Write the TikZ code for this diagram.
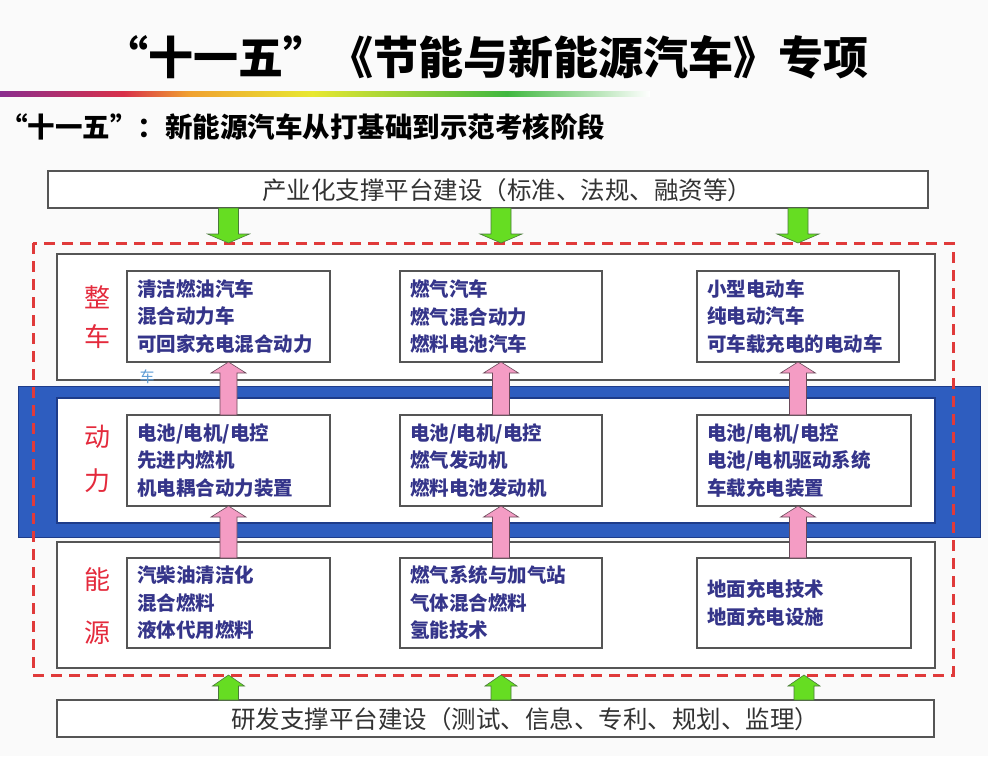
\documentclass[tikz,border=0pt]{standalone}
\usepackage{fontspec}
\setmainfont{Noto Sans CJK SC}
\usetikzlibrary{calc}
\definecolor{bgc}{HTML}{FAFAFA}
\definecolor{boxgray}{HTML}{555555}
\definecolor{navy}{HTML}{35358A}
\definecolor{labred}{HTML}{E42A3C}
\definecolor{zonered}{HTML}{E03A3A}
\definecolor{bandblue}{HTML}{2E5DBF}
\definecolor{banddark}{HTML}{1E3C8A}
\definecolor{pinkf}{HTML}{F49CC4}
\definecolor{pinkd}{HTML}{6A4A5A}
\definecolor{greenf}{HTML}{66DD22}
\definecolor{greend}{HTML}{4A7A3A}
\definecolor{rbpurple}{HTML}{8A2E8E}
\definecolor{rbred}{HTML}{D8304A}
\definecolor{rborange}{HTML}{F0A030}
\definecolor{rbyellow}{HTML}{E8E830}
\definecolor{rbgreen}{HTML}{40B840}
\definecolor{overblue}{HTML}{5B9BD5}
\pgfdeclarehorizontalshading{rainbowline}{100bp}{color(0bp)=(rbpurple); color(25bp)=(rbpurple); color(34.5bp)=(rbred); color(39.5bp)=(rborange); color(49bp)=(rbyellow); color(64bp)=(rbgreen); color(75bp)=(white); color(100bp)=(white)}
\newcommand\uparr[6]{\path[#1] let \p1=(#2), \p2=(#3) in
 (\x2-#4,\y1) -- (\x2-#4,\y2-#6) -- (\x2-#5,\y2-#6) -- (\x2,\y2) -- (\x2+#5,\y2-#6) -- (\x2+#4,\y2-#6) -- (\x2+#4,\y1) -- cycle;}
\newcommand\dnarr[6]{\path[#1] let \p1=(#2), \p2=(#3) in
 (\x2-#4,\y1) -- (\x2-#4,\y2+#6) -- (\x2-#5,\y2+#6) -- (\x2,\y2) -- (\x2+#5,\y2+#6) -- (\x2+#4,\y2+#6) -- (\x2+#4,\y1) -- cycle;}
\begin{document}
\begin{tikzpicture}[x=1pt,y=-1pt,
  every node/.style={inner sep=0pt,outer sep=0pt},
  rowbox/.style={draw=boxgray,line width=1.4pt,fill=white,anchor=north west,minimum width=878,minimum height=126},
  platbox/.style={draw=boxgray,line width=1.4pt,fill=white,minimum height=37},
  plattext/.style={text=black!80,font=\fontsize{24.5}{24.5}\selectfont},
  ibox/.style={draw=boxgray,line width=1.3pt,fill=white,anchor=north west,align=left,minimum height=91,text=navy,font=\fontsize{19.5}{27.5}\selectfont\bfseries},
  lab/.style={text=labred,align=center,font=\fontsize{26}{39}\selectfont},
  pinkarr/.style={fill=pinkf,draw=pinkd,line width=0.6pt},
  greenarr/.style={fill=greenf,draw=greend,line width=0.6pt}]
\useasboundingbox (0,0) rectangle (988,756);
\fill[bgc] (0,0) rectangle (988,756);
% titles
\node[font=\fontsize{45}{45}\selectfont\bfseries] (title) at (486,57) {“十一五”《节能与新能源汽车》专项};
\shade[shading=rainbowline] (0,91.5) rectangle (650,96.5);
\node[anchor=west,font=\fontsize{27.5}{27.5}\selectfont\bfseries] (sub) at (0,127) {“十一五”：新能源汽车从打基础到示范考核阶段};
% platforms
\node[platbox,minimum width=880,anchor=north west] (top) at (48,171) {};
\node[plattext] (toptxt) at (507,190) {产业化支撑平台建设（标准、法规、融资等）};
\node[platbox,minimum width=877,anchor=north west] (bot) at (57,700) {};
\node[plattext] (bottxt) at (525,719) {研发支撑平台建设（测试、信息、专利、规划、监理）};
% rows
\node[rowbox] (row1) at (57,254) {};
\node[fill=bandblue,draw=banddark,line width=0.8pt,anchor=north west,minimum width=962,minimum height=151] (band) at (18,386) {};
\node[rowbox,draw=banddark,minimum height=125] (row2) at (57,398) {};
\node[rowbox] (row3) at (57,542) {};
\draw[draw=zonered,line width=3pt,dash pattern=on 11pt off 7pt] (33,243) rectangle (953,675);
\coordinate (zoneN) at (493,243);
\coordinate (zoneS) at (493,675);
% row labels
\node[lab] (l1) at (97,317) {整\\车};
\node[lab,font=\fontsize{26}{44}\selectfont] (l2) at (97,459) {动\\力};
\node[lab,font=\fontsize{26}{53}\selectfont] (l3) at (97,606) {能\\源};
% inner boxes row 1
\node[ibox,minimum width=203,text width=183] (r1a) at (127,271) {清洁燃油汽车\\混合动力车\\可回家充电混合动力};
\node[ibox,minimum width=202,text width=182] (r1b) at (400,271) {燃气汽车\\燃气混合动力\\燃料电池汽车};
\node[ibox,minimum width=202,text width=182] (r1c) at (697,271) {小型电动车\\纯电动汽车\\可车载充电的电动车};
\node[text=overblue,font=\fontsize{15}{15}\selectfont] (over) at (147,377) {车};
% row 2
\node[ibox,minimum width=203,text width=183] (r2a) at (127,415) {电池/电机/电控\\先进内燃机\\机电耦合动力装置};
\node[ibox,minimum width=202,text width=182] (r2b) at (400,415) {电池/电机/电控\\燃气发动机\\燃料电池发动机};
\node[ibox,minimum width=214,text width=194] (r2c) at (697,415) {电池/电机/电控\\电池/电机驱动系统\\车载充电装置};
% row 3
\node[ibox,minimum width=203,minimum height=90,text width=183] (r3a) at (127,558) {汽柴油清洁化\\混合燃料\\液体代用燃料};
\node[ibox,minimum width=202,minimum height=90,text width=182] (r3b) at (400,558) {燃气系统与加气站\\气体混合燃料\\氢能技术};
\node[ibox,minimum width=214,minimum height=90,text width=194] (r3c) at (697,558) {地面充电技术\\地面充电设施};
% arrows
\foreach \c in {a,b,c}{
  \dnarr{greenarr}{r1\c.south |- top.south}{r1\c.south |- zoneN}{10pt}{21pt}{9pt}
  \uparr{pinkarr}{r1\c.south |- r2\c.north}{r1\c.south}{8.5pt}{17.5pt}{11pt}
  \uparr{pinkarr}{r1\c.south |- r3\c.north}{r1\c.south |- r2\c.south}{8.5pt}{17.5pt}{11pt}
  \uparr{greenarr}{r3\c.south |- bot.north}{r3\c.south |- zoneS}{10pt}{16pt}{11pt}
}
\end{tikzpicture}
\end{document}
